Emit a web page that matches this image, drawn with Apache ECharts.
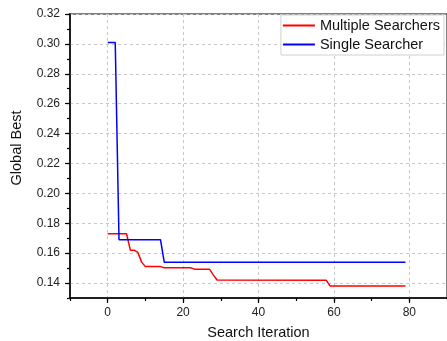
<!DOCTYPE html>
<html><head><meta charset="utf-8">
<script src="https://cdn.jsdelivr.net/npm/echarts@6/dist/echarts.min.js"></script>
<style>html,body{margin:0;padding:0;background:#fff}#c{width:447px;height:341px}</style>
</head><body><div id="c"></div>
<script>
const seriesNames = ['Multiple Searchers', 'Single Searcher'];
const multiX = [0, 5, 6, 7, 8, 9, 10, 14, 15, 22, 23, 27, 28, 29, 58, 59, 79];
const multiY = [0.173, 0.173, 0.162, 0.162, 0.1605, 0.154, 0.151, 0.151, 0.1502, 0.1502, 0.1493, 0.1493, 0.1455, 0.142, 0.1418, 0.138, 0.138];
const singleX = [0, 2, 3, 14, 15, 79];
const singleY = [0.301, 0.301, 0.169, 0.169, 0.154, 0.154];
const xTicks = [0, 20, 40, 60, 80];
const yTicks = [0.14, 0.16, 0.18, 0.20, 0.22, 0.24, 0.26, 0.28, 0.30, 0.32];

const font = 'Arial, "Liberation Sans", sans-serif';
const zip = (xs, ys) => xs.map((x, i) => [x, ys[i]]);
const chart = echarts.init(document.getElementById('c'));
chart.setOption({
  animation: false,
  grid: { left: 70, right: 0, top: 14, bottom: 43, show: true, borderColor: '#808080', borderWidth: 2,
    containLabel: false, outerBoundsMode: 'none' },
  legend: {
    orient: 'vertical', right: 3, top: 15, padding: [3, 4, 3, 2], itemGap: 4,
    itemWidth: 32, itemHeight: 2, icon: 'rect', borderColor: '#d0d0d0', borderWidth: 1, backgroundColor: '#fff',
    textStyle: { fontFamily: font, fontSize: 14.5, color: '#111' },
    data: seriesNames
  },
  xAxis: [{
    type: 'value', min: -10, max: 90, interval: 10,
    name: 'Search Iteration', nameLocation: 'middle', nameGap: 27,
    nameTextStyle: { fontFamily: font, fontSize: 14.5, color: '#111' },
    axisLine: { show: true, onZero: false, lineStyle: { color: '#000', width: 1.5 } },
    axisTick: { show: true, length: 5, customValues: xTicks, lineStyle: { color: '#000', width: 1.2 } },
    axisLabel: { margin: 9, customValues: xTicks, fontFamily: font, fontSize: 12, color: '#222' },
    splitLine: { show: true, lineStyle: { color: '#c8c8c8', type: [3, 3], width: 1 } }
  }, {
    type: 'value', min: -10, max: 90, interval: 10, position: 'bottom',
    axisLine: { show: false, onZero: false }, axisLabel: { show: false }, splitLine: { show: false },
    axisTick: { show: true, length: 3, lineStyle: { color: '#000', width: 1.2 } }
  }],
  yAxis: [{
    type: 'value', min: 0.13, max: 0.32, interval: 0.01,
    axisLine: { show: true, onZero: false, lineStyle: { color: '#000', width: 1.5 } },
    axisTick: { show: true, length: 5, customValues: yTicks, lineStyle: { color: '#000', width: 1.2 } },
    axisLabel: { margin: 10, customValues: yTicks, fontFamily: font, fontSize: 12, color: '#222',
      formatter: v => v.toFixed(2) },
    splitLine: { show: true, lineStyle: { color: '#c8c8c8', type: [3, 3], width: 1 } }
  }, {
    type: 'value', min: 0.13, max: 0.32, interval: 0.01, position: 'left',
    axisLine: { show: false, onZero: false }, axisLabel: { show: false }, splitLine: { show: false },
    axisTick: { show: true, length: 3, lineStyle: { color: '#000', width: 1.2 } }
  }],
  graphic: [{
    type: 'text', x: 17, y: 148, rotation: Math.PI / 2,
    style: { text: 'Global Best', fontFamily: font, fontSize: 14.5, fill: '#111', align: 'center', verticalAlign: 'middle' }
  }],
  series: [{
    name: seriesNames[0], type: 'line', symbol: 'none', data: zip(multiX, multiY),
    lineStyle: { color: '#ff0000', width: 1.5 }, itemStyle: { color: '#ff0000' }, z: 3
  }, {
    name: seriesNames[1], type: 'line', symbol: 'none', data: zip(singleX, singleY),
    lineStyle: { color: '#0000ff', width: 1.5 }, itemStyle: { color: '#0000ff' }, z: 3
  }]
});
</script></body></html>
